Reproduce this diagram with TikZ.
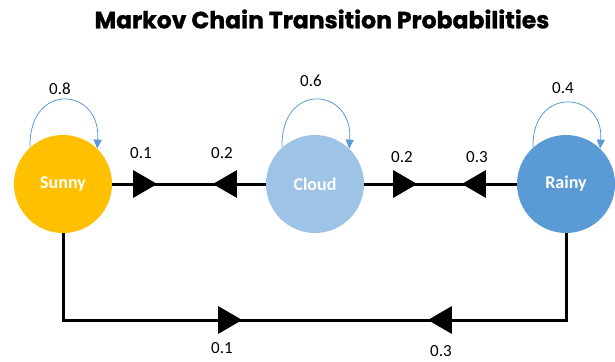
\documentclass[tikz,border=0pt]{standalone}
\usepackage{fontspec}
\setmainfont{Carlito}
\newfontfamily\titlefont{Poppins}[BoldFeatures={FakeBold=1.2}]
\usetikzlibrary{arrows.meta,decorations.markings}
\definecolor{sunnyc}{HTML}{FFC000}
\definecolor{cloudc}{HTML}{9DC3E6}
\definecolor{rainyc}{HTML}{5B9BD5}
\definecolor{loopc}{HTML}{5B9BD5}
\tikzset{
  state/.style={circle, minimum size=98pt, inner sep=0pt, text=white,
    font=\fontsize{18}{21}\selectfont\bfseries},
  prob/.style={font=\fontsize{17}{20}\selectfont, inner sep=0pt},
  link/.style={line width=3pt, black},
  tipat/.style={postaction={decorate}, decoration={markings,
    mark=at position #1 with {\arrow[black]{Triangle[length=24pt, width=27pt]}}}},
  selfloop/.style={draw=loopc, line width=0.8pt,
    -{Triangle[length=9pt, width=8pt, fill=loopc]}},
}
\begin{document}
\begin{tikzpicture}[x=1pt, y=-1pt]
\useasboundingbox (0,0) rectangle (615,361);

% title
\node[font=\titlefont\fontsize{23.5}{26}\selectfont\bfseries] (title) at (322,19)
  {Markov Chain Transition Probabilities};

% states
\node[state, fill=sunnyc] (sunny) at (63,184) {Sunny};
\node[state, fill=cloudc] (cloud) at (315,184) {Cloud};
\node[state, fill=rainyc] (rainy) at (566,184) {Rainy};

% transitions between neighbouring states
\draw[link, tipat=45pt] (sunny.east) -- (cloud.west);
\draw[link, tipat=53pt] (cloud.west) -- (sunny.east);
\draw[link, tipat=53pt] (cloud.east) -- (rainy.west);
\draw[link, tipat=55pt] (rainy.west) -- (cloud.east);

% transitions between the outer states, routed underneath
\coordinate (sunnylow) at (63,320);
\coordinate (rainylow) at (566,320);
\draw[link, tipat=266pt] (sunny.south) -- (sunnylow) -- (rainylow) -- (rainy.south);
\draw[link, tipat=225pt] (rainy.south) -- (rainylow) -- (sunnylow) -- (sunny.south);

% self transitions
\draw[selfloop] (sunny.132) .. controls +(-2,-66) and +(4,-62) .. (sunny.46);
\draw[selfloop] (cloud.132) .. controls +(-2,-66) and +(4,-62) .. (cloud.46);
\draw[selfloop] (rainy.132) .. controls +(-2,-62) and +(4,-58) .. (rainy.46);

% probabilities
\node[prob] (p-ss) at (60,89) {0.8};
\node[prob] (p-cc) at (311,81) {0.6};
\node[prob] (p-rr) at (563,88) {0.4};
\node[prob] (p-sc) at (141,153) {0.1};
\node[prob] (p-cs) at (222,153) {0.2};
\node[prob] (p-cr) at (402,157) {0.2};
\node[prob] (p-rc) at (477,157) {0.3};
\node[prob] (p-sr) at (222,348) {0.1};
\node[prob] (p-rs) at (441,351) {0.3};
\end{tikzpicture}
\end{document}
